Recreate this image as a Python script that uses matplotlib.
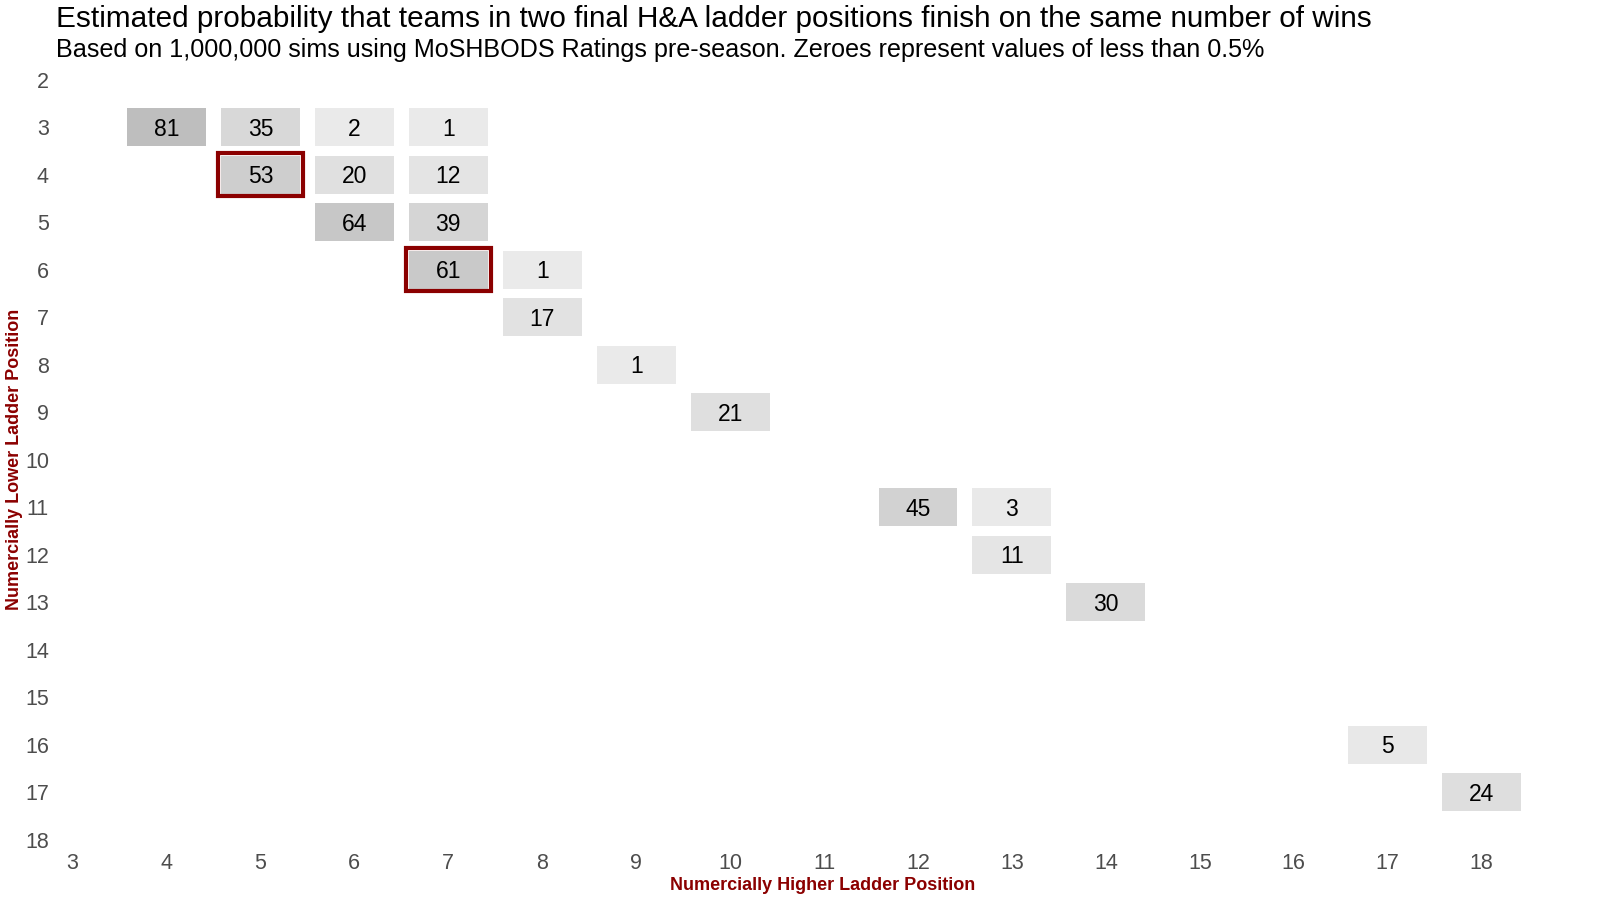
import numpy as np
import matplotlib
matplotlib.use("Agg")
import matplotlib.pyplot as plt
from matplotlib.colors import LinearSegmentedColormap, Normalize

plt.rcParams["font.family"] = ["Liberation Sans", "DejaVu Sans"]

# tile data: numerically higher position (x), numerically lower position (y), probability %
higher_pos = [4, 5, 6, 7, 5, 6, 7, 6, 7, 7, 8, 8, 9, 10, 12, 13, 13, 14, 17, 18]
lower_pos = [3, 3, 3, 3, 4, 4, 4, 5, 5, 6, 6, 7, 8, 9, 11, 11, 12, 13, 16, 17]
prob_pct = [81, 35, 2, 1, 53, 20, 12, 64, 39, 61, 1, 17, 1, 21, 45, 3, 11, 30, 5, 24]

# highlighted cells
hl_higher = [5, 7]
hl_lower = [4, 6]

x_ticks = list(range(3, 19))
y_ticks = list(range(2, 19))

title = "Estimated probability that teams in two final H&A ladder positions finish on the same number of wins"
subtitle = "Based on 1,000,000 sims using MoSHBODS Ratings pre-season. Zeroes represent values of less than 0.5%"

dark_red = "#8b0000"
tick_grey = "#4d4d4d"

cmap = LinearSegmentedColormap.from_list("greys", ["#ebebeb", "#bebebe"])
norm = Normalize(vmin=0, vmax=81)

fig = plt.figure(figsize=(16, 9), dpi=100)
ax = fig.add_axes([0.0306, 0.0563, 0.9307, 0.8658])

x = np.array(higher_pos)
y = np.array(lower_pos)
vals = np.array(prob_pct)

ax.bar(x, 0.8, bottom=y - 0.4, width=0.84, color=cmap(norm(vals)), edgecolor="none")
for xi, yi, v in zip(x, y, vals):
    ax.text(xi, yi + 0.04, str(v), ha="center", va="center", fontsize=16.5, color="black")

# highlight borders
ax.bar(hl_higher, 0.9, bottom=np.array(hl_lower) - 0.45, width=0.9,
       facecolor="none", edgecolor=dark_red, linewidth=3)

ax.set_xlim(2.75, 18.6)
ax.set_ylim(18.2, 1.8)
ax.set_xticks(x_ticks)
ax.set_yticks(y_ticks)
ax.tick_params(length=0, labelsize=15.5, colors=tick_grey)
ax.tick_params(axis="x", pad=3)
ax.tick_params(axis="y", pad=0)
for s in ax.spines.values():
    s.set_visible(False)

fig.text(56 / 1600, 1 - 19 / 900, title, fontsize=21.4, va="center", ha="left")
fig.text(56 / 1600, 1 - 50.5 / 900, subtitle, fontsize=18.1, va="center", ha="left")
fig.text(823 / 1600, 1 - 885 / 900, "Numercially Higher Ladder Position", fontsize=13,
         fontweight="bold", color=dark_red, ha="center", va="center")
fig.text(15 / 1600, 1 - 459 / 900, "Numercially Lower Ladder Position", fontsize=13,
         fontweight="bold", color=dark_red, ha="center", va="center", rotation=90)

fig.savefig("out.png", dpi=100)
